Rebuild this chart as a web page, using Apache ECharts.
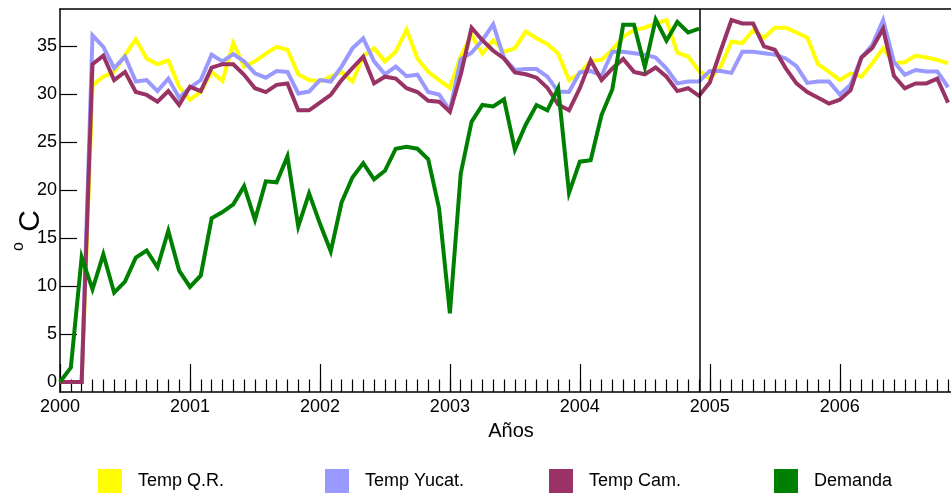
<!DOCTYPE html>
<html>
<head>
<meta charset="utf-8">
<script src="https://cdn.jsdelivr.net/npm/echarts@6/dist/echarts.min.js"></script>
<style>
html,body{margin:0;padding:0;background:#fff;}
#chart{width:951px;height:495px;}
</style>
</head>
<body>
<div id="chart"></div>
<script>
// Month index 0 = Jan 2000
const yearLabels = ['2000','2001','2002','2003','2004','2005','2006'];
const yTicks = [0,5,10,15,20,25,30,35];
const splitMonth = 59.1;

const tempQR = [0,0,0,30.9,31.8,32.3,34.05,35.7,33.7,33.1,33.5,30.75,
  29.4,30.25,32.3,31.35,35.3,32.85,33.4,34.2,34.9,34.6,32.05,31.45,
  31.3,31.8,32.3,31.3,33.9,34.75,33.4,34.4,36.7,33.7,32.3,31.45,
  30.65,33.9,36.15,34.2,35.6,34.4,34.75,36.5,35.8,35.2,34.2,31.45,
  32.15,33.45,33.55,34.6,35.95,36.65,36.9,37.35,37.7,34.3,33.9,32.4,
  31.6,32.85,35.45,35.3,36.65,35.85,36.9,36.9,36.4,35.85,33.1,32.3,
  31.45,32.15,31.8,33.2,34.75,33.2,33.3,34.0,33.8,33.55,33.2];

const tempYucat = [0,0,0,36.1,34.9,32.7,33.9,31.3,31.45,30.3,31.6,29.6,
  30.65,31.45,34.1,33.4,34.15,33.4,32.15,31.7,32.4,32.3,30.05,30.25,
  31.45,31.3,32.85,34.75,35.8,33.4,32.05,32.85,31.85,32.0,30.2,29.95,
  28.3,33.6,34.3,35.6,37.25,33.7,32.5,32.6,32.6,31.8,30.25,30.2,
  32.25,32.4,31.9,34.4,34.4,34.25,34.1,33.8,32.65,31.1,31.3,31.3,
  32.4,32.4,32.2,34.4,34.4,34.25,34.1,33.7,32.9,31.15,31.3,31.3,
  29.95,30.95,33.8,35.1,37.7,33.35,32.0,32.5,32.35,32.35,30.7];

const tempCam = [0,0,0,33.1,34.0,31.45,32.3,30.2,29.9,29.2,30.3,28.85,
  30.75,30.3,32.75,33.1,33.1,32.0,30.6,30.2,30.95,31.1,28.3,28.3,
  29.1,29.9,31.45,32.7,33.9,31.1,31.8,31.6,30.6,30.2,29.3,29.2,
  28.15,32.0,36.9,35.6,34.5,33.7,32.25,32.05,31.7,30.65,28.9,28.3,
  30.6,33.5,31.45,32.65,33.65,32.3,32.05,32.75,31.8,30.3,30.6,29.8,
  31.2,34.5,37.7,37.35,37.35,34.95,34.6,32.7,31.1,30.2,29.6,29.0,
  29.4,30.4,33.8,34.8,36.8,31.9,30.6,31.1,31.1,31.6,29.1];

const demanda = [0,1.5,13.0,9.65,13.3,9.3,10.45,12.95,13.7,11.95,15.75,11.6,
  9.9,11.1,17.05,17.7,18.5,20.4,16.9,20.9,20.8,23.5,16.2,19.65,
  16.5,13.6,18.7,21.3,22.8,21.1,22.0,24.3,24.5,24.3,23.2,18.1,
  7.15,21.7,27.1,28.85,28.7,29.45,24.2,26.8,28.85,28.3,30.6,19.7,
  22.95,23.1,27.8,30.5,37.2,37.2,32.8,37.75,35.55,37.5,36.4,36.8];

const seriesNames = ['Temp Q.R.','Temp Yucat.','Temp Cam.','Demanda'];
const seriesColors = ['#FFFF00','#9999FF','#993366','#008000'];
const seriesData = [tempQR, tempYucat, tempCam, demanda];

const FONT = '"Liberation Sans", Arial, sans-serif';
const majorMonths = yearLabels.map((_, k) => k * 12);
const allMonths = [];
for (let m = 0; m <= 82; m++) allMonths.push(m);

const chart = echarts.init(document.getElementById('chart'), null, {renderer:'canvas'});

const series = seriesData.map((arr, k) => ({
  name: seriesNames[k],
  type: 'line',
  data: arr.map((v, i) => [i, v]),
  showSymbol: false,
  symbol: 'none',
  color: seriesColors[k],
  itemStyle: {color: seriesColors[k]},
  lineStyle: {width: 4, color: seriesColors[k], join: 'miter'},
  z: 2 + k,
  animation: false
}));
series[0].markLine = {
  silent: true,
  symbol: ['none','none'],
  label: {show: false},
  lineStyle: {color: '#000', width: 1.5, type: 'solid'},
  data: [{xAxis: splitMonth}],
  animation: false
};

const legends = seriesNames.map((n, k) => ({
  data: [n],
  left: [98, 325, 549, 774][k],
  top: 469,
  icon: 'rect',
  itemWidth: 24,
  itemHeight: 24,
  padding: 0,
  selectedMode: false,
  textStyle: {fontSize: 18, color: '#000', fontFamily: FONT, padding: [0,0,0,11]}
}));

const option = {
  backgroundColor: '#fff',
  animation: false,
  grid: {left: 60, right: 0, top: 9, bottom: 103, containLabel: false},
  legend: legends,
  xAxis: [
    {
      type: 'value', min: 0, max: 82.27, position: 'bottom',
      axisLine: {show: true, onZero: false, lineStyle: {color: '#000', width: 1.5}},
      axisTick: {show: true, inside: true, length: 28, customValues: majorMonths, lineStyle: {color: '#000', width: 1.2}},
      axisLabel: {show: true, customValues: majorMonths, margin: 6, fontSize: 18, color: '#000', fontFamily: FONT,
        formatter: v => yearLabels[Math.round(v / 12)]},
      splitLine: {show: false}
    },
    {
      type: 'value', min: 0, max: 82.27, position: 'bottom',
      axisLine: {show: false, onZero: false},
      axisTick: {show: true, inside: true, length: 12.5, customValues: allMonths, lineStyle: {color: '#000', width: 1.2}},
      axisLabel: {show: false},
      splitLine: {show: false}
    },
    {
      type: 'value', min: 0, max: 82.27, position: 'top',
      axisLine: {show: true, onZero: false, lineStyle: {color: '#000', width: 1.5}},
      axisTick: {show: false},
      axisLabel: {show: false},
      splitLine: {show: false}
    }
  ],
  yAxis: [{
    type: 'value', min: -1.04, max: 38.85,
    axisLine: {show: true, onZero: false, lineStyle: {color: '#000', width: 1.5}},
    axisTick: {show: true, inside: true, length: 17, customValues: yTicks, lineStyle: {color: '#000', width: 1.2}},
    axisLabel: {show: true, customValues: yTicks, margin: 3, fontSize: 18, color: '#000', fontFamily: FONT},
    splitLine: {show: false}
  }],
  graphic: [
    {type: 'text', x: 511, y: 431, style: {text: 'Años', fontSize: 20, fill: '#000', font: '20px ' + FONT, align: 'center', verticalAlign: 'middle'}},
    {type: 'text', x: 31, y: 221, rotation: Math.PI/2, style: {text: 'C', font: '30px ' + FONT, fill: '#000', align: 'center', verticalAlign: 'middle'}},
    {type: 'text', x: 19, y: 246.5, rotation: Math.PI/2, style: {text: 'o', font: '16px ' + FONT, fill: '#000', align: 'center', verticalAlign: 'middle'}}
  ],
  series: series
};
chart.setOption(option);
</script>
</body>
</html>
